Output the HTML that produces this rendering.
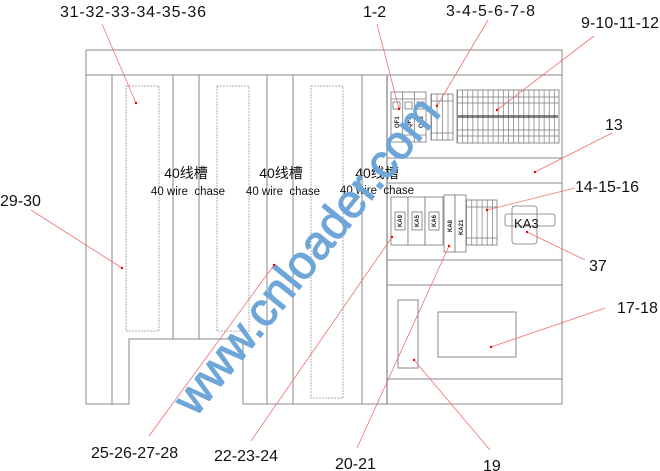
<!DOCTYPE html>
<html><head><meta charset="utf-8"><style>
html,body{margin:0;padding:0;background:#fff;}
svg{display:block;font-family:"Liberation Sans","Noto Sans CJK SC",sans-serif;}
</style></head><body>
<svg width="660" height="471" viewBox="0 0 660 471" xmlns="http://www.w3.org/2000/svg">
<defs>
<pattern id="tb" x="457" y="0" width="5.1" height="10" patternUnits="userSpaceOnUse">
<rect width="5.1" height="10" fill="#fff"/><line x1="0.5" y1="0" x2="0.5" y2="10" stroke="#888" stroke-width="0.8"/>
</pattern>
<pattern id="tb2" x="466" y="0" width="5.2" height="10" patternUnits="userSpaceOnUse">
<rect width="5.2" height="10" fill="#fff"/><line x1="0.5" y1="0" x2="0.5" y2="10" stroke="#888" stroke-width="0.8"/>
</pattern>
<pattern id="tb3" x="431" y="0" width="5.5" height="10" patternUnits="userSpaceOnUse">
<rect width="5.5" height="10" fill="#fff"/><line x1="0.5" y1="0" x2="0.5" y2="10" stroke="#888" stroke-width="0.8"/>
</pattern>
</defs>
<g fill="none" stroke="#8a8a8a" stroke-width="1">
<path d="M86 50 H562 V404 H243 V339 H129 V404 H86 Z"/>
<line x1="86" y1="75" x2="562" y2="75"/>
<line x1="112" y1="75" x2="112" y2="404"/>
<line x1="173" y1="75" x2="173" y2="339"/>
<line x1="199" y1="75" x2="199" y2="339"/>
<line x1="267" y1="75" x2="267" y2="404"/>
<line x1="293" y1="75" x2="293" y2="404"/>
<line x1="362" y1="75" x2="362" y2="404"/>
<line x1="387" y1="75" x2="387" y2="404" stroke-width="1.3"/>
<line x1="387" y1="158" x2="562" y2="158"/>
<line x1="387" y1="183" x2="562" y2="183"/>
<line x1="387" y1="260" x2="562" y2="260"/>
<line x1="387" y1="285" x2="562" y2="285"/>
<line x1="387" y1="379" x2="562" y2="379"/>
<rect x="398" y="300" width="20" height="68"/>
<rect x="438" y="312" width="78" height="45"/>
</g>
<g fill="none" stroke="#999" stroke-width="0.8" stroke-dasharray="2,1">
<rect x="126" y="86" width="33" height="245"/>
<rect x="217" y="86" width="32" height="245"/>
<rect x="311" y="86" width="32" height="312"/>
</g>
<g stroke="#777" stroke-width="0.8">
<rect x="391" y="92" width="35" height="50" fill="#fff"/>
<line x1="402.7" y1="92" x2="402.7" y2="142"/><line x1="414.3" y1="92" x2="414.3" y2="142"/>
<line x1="391" y1="99" x2="426" y2="99"/><line x1="391" y1="135" x2="426" y2="135"/>
<rect x="393" y="102" width="7" height="7" fill="#fff"/><rect x="405" y="102" width="7" height="7" fill="#fff"/><rect x="417" y="102" width="7" height="7" fill="#fff"/>
<rect x="431" y="94" width="22" height="46" fill="url(#tb3)"/>
<line x1="431" y1="101" x2="453" y2="101"/><line x1="431" y1="133" x2="453" y2="133"/>
<rect x="457" y="90" width="102" height="53" fill="url(#tb)"/>
<line x1="457" y1="97" x2="559" y2="97"/><line x1="457" y1="103" x2="559" y2="103"/>
<line x1="457" y1="130" x2="559" y2="130"/><line x1="457" y1="136" x2="559" y2="136"/>
</g>
<g font-size="6" font-weight="bold" fill="#222">
<text transform="translate(399,128) rotate(-90)">QF1</text>
<text transform="translate(411,128) rotate(-90)">QF2</text>
<text transform="translate(423,128) rotate(-90)">QF3</text>
</g>
<g fill="#333"><rect x="458" y="115" width="100" height="3" opacity="0.6"/></g>
<g stroke="#777" stroke-width="0.8">
<rect x="391" y="197" width="17" height="48" fill="#fff"/>
<rect x="408" y="197" width="17" height="48" fill="#fff"/>
<rect x="425" y="197" width="18" height="48" fill="#fff"/>
<rect x="395" y="212" width="10" height="18" fill="#fff"/>
<rect x="412" y="212" width="10" height="18" fill="#fff"/>
<rect x="429" y="212" width="10" height="18" fill="#fff"/>
<rect x="444" y="195" width="11" height="57" fill="#fff"/>
<rect x="455" y="195" width="11" height="57" fill="#fff"/>
<rect x="466" y="200" width="31" height="45" fill="url(#tb2)"/>
<line x1="466" y1="207" x2="497" y2="207"/><line x1="466" y1="238" x2="497" y2="238"/>
<rect x="512" y="206" width="25" height="38" rx="3" fill="#fff"/>
<rect x="505" y="214" width="50" height="12" rx="2" fill="none"/>
</g>
<g font-size="6" font-weight="bold" fill="#222">
<text transform="translate(402,227) rotate(-90)">KA9</text>
<text transform="translate(419,227) rotate(-90)">KA5</text>
<text transform="translate(436,227) rotate(-90)">KA6</text>
<text transform="translate(452,232) rotate(-90)">KA8</text>
<text transform="translate(463,235) rotate(-90)">KA21</text>
</g>
<text x="514" y="228" font-size="13" fill="#111">KA3</text>
<g fill="#111" text-anchor="middle">
<text x="186" y="178" font-size="14">40线槽</text>
<text x="188" y="195" font-size="11.5" xml:space="preserve">40 wire  chase</text>
<text x="281" y="178" font-size="14">40线槽</text>
<text x="283" y="195" font-size="11.5" xml:space="preserve">40 wire  chase</text>
<text x="377" y="178" font-size="14">40线槽</text>
<text x="377" y="194" font-size="11.5" xml:space="preserve">40 wire  chase</text>
</g>
<text x="307" y="271" font-size="47" fill="#6fa6d8" stroke="#6fa6d8" stroke-width="1.2" text-anchor="middle" transform="rotate(-51 307 256)">www.cnloader.com</text>
<g stroke="#f07070" stroke-width="0.8">
<line x1="102" y1="24" x2="136" y2="103"/>
<line x1="377" y1="24" x2="399" y2="109"/>
<line x1="488" y1="20" x2="437" y2="106"/>
<line x1="594" y1="36" x2="497" y2="110"/>
<line x1="612" y1="133" x2="535" y2="172"/>
<line x1="575" y1="188" x2="487" y2="210"/>
<line x1="585" y1="260" x2="527" y2="232"/>
<line x1="605" y1="308" x2="491" y2="347"/>
<line x1="490" y1="450" x2="414" y2="360"/>
<line x1="357" y1="448" x2="449" y2="246"/>
<line x1="251" y1="441" x2="392" y2="237"/>
<line x1="149" y1="436" x2="274" y2="265"/>
<line x1="31" y1="210" x2="122" y2="268"/>
</g>
<g fill="#e00">
<circle cx="136" cy="103" r="1.2"/><circle cx="399" cy="109" r="1.2"/><circle cx="437" cy="106" r="1.2"/>
<circle cx="497" cy="110" r="1.2"/><circle cx="535" cy="172" r="1.2"/><circle cx="487" cy="210" r="1.2"/>
<circle cx="527" cy="232" r="1.2"/><circle cx="491" cy="347" r="1.2"/><circle cx="414" cy="360" r="1.2"/>
<circle cx="449" cy="246" r="1.2"/><circle cx="392" cy="237" r="1.2"/><circle cx="274" cy="265" r="1.2"/>
<circle cx="122" cy="268" r="1.2"/>
</g>
<g fill="#111" font-size="16">
<text x="60" y="17" textLength="146" lengthAdjust="spacing">31-32-33-34-35-36</text>
<text x="363" y="17">1-2</text>
<text x="446" y="16" textLength="89" lengthAdjust="spacing">3-4-5-6-7-8</text>
<text x="581" y="28" textLength="78" lengthAdjust="spacing">9-10-11-12</text>
<text x="605" y="130">13</text>
<text x="575" y="192">14-15-16</text>
<text x="589" y="271">37</text>
<text x="617" y="313">17-18</text>
<text x="483" y="471">19</text>
<text x="335" y="469">20-21</text>
<text x="214" y="461">22-23-24</text>
<text x="91" y="458">25-26-27-28</text>
<text x="0" y="206">29-30</text>
</g>
</svg>
</body></html>
